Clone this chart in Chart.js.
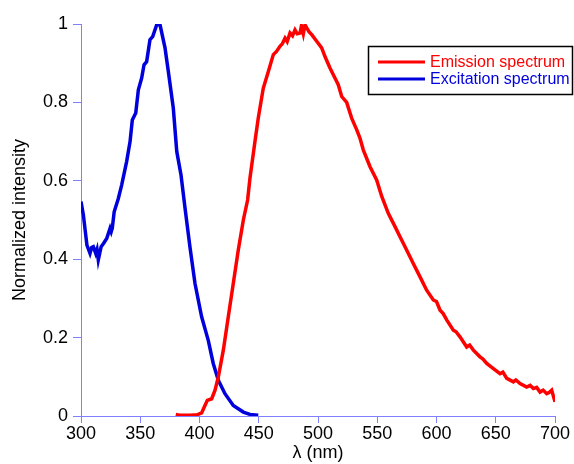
<!DOCTYPE html>
<html>
<head>
<meta charset="utf-8">
<script src="https://cdn.jsdelivr.net/npm/chart.js@4/dist/chart.umd.min.js"></script>
<style>
    html, body { margin: 0; padding: 0; background: #ffffff; }
    #wrap { width: 574px; height: 464px; }
</style>
</head>
<body>
<div id="wrap"><canvas id="spectra" width="574" height="464"></canvas></div>
<script>
// Excitation spectrum (blue)
const excWavelength = [300, 302, 305, 307.6, 309, 310.4, 312.4, 313.5, 314.6, 317, 319, 321.7, 324.5, 325.5, 326.4, 328,
    331.5, 334.3, 338.5, 341.4, 343.3, 346.2, 348.4, 351.2, 353.2, 355.4, 358.2, 360.5, 363.9, 366.7, 370.9, 373.7,
    377.9, 380.8, 384.4, 387.8, 392, 396.2, 401.8, 407.4, 411.6, 415.9, 421.5, 428.5, 437, 442.6, 449.6];
const excIntensity = [0.547, 0.513, 0.436, 0.415, 0.43, 0.432, 0.415, 0.425, 0.398, 0.432, 0.44, 0.453, 0.479, 0.47, 0.479, 0.521,
    0.555, 0.589, 0.649, 0.700, 0.755, 0.773, 0.832, 0.862, 0.896, 0.904, 0.960, 0.968, 0.998, 0.998, 0.939, 0.879,
    0.785, 0.675, 0.615, 0.530, 0.430, 0.338, 0.253, 0.193, 0.134, 0.091, 0.057, 0.027, 0.010, 0.004, 0.002];

// Emission spectrum (red)
const emWavelength = [380, 383, 392, 398, 401.8, 404.6, 406.6, 410.3, 413.1, 415.9, 420.1, 424.3, 428.5, 432.7, 437, 440.6,
    442.6, 446.8, 449.6, 453.8, 458.1, 462.3, 465, 467.9, 470, 472.2, 474, 476.4, 478.5, 480.6, 482.5, 484.8,
    486, 487.6, 489, 490.5, 492.5, 494.7, 498.9, 503.1, 505.9, 510.1, 514.3, 517.1, 520, 524.2, 528.4, 532.7,
    535.4, 538.2, 543.9, 549.5, 553.8, 559.3, 565, 569.2, 574.9, 580.4, 586.1, 591.7, 597.3, 600, 603, 605.5, 608.6, 614.2,
    616.5, 619.8, 625.5, 628, 631.1, 636.7, 639, 642.4, 648, 653.6, 656, 659.3, 664.9, 667, 670.5, 676.1, 679, 681.8,
    684.5, 687.4, 690, 693, 695, 697.2, 700];
const emIntensity = [0.004, 0.002, 0.002, 0.003, 0.008, 0.027, 0.040, 0.044, 0.066, 0.100, 0.168, 0.253, 0.338, 0.423, 0.500, 0.551,
    0.607, 0.700, 0.760, 0.836, 0.879, 0.922, 0.93, 0.943, 0.95, 0.964, 0.955, 0.977, 0.97, 0.985, 0.975, 0.977,
    0.995, 0.975, 0.998, 0.990, 0.98, 0.973, 0.956, 0.939, 0.917, 0.888, 0.862, 0.845, 0.815, 0.800, 0.760, 0.730,
    0.709, 0.679, 0.636, 0.602, 0.560, 0.517, 0.483, 0.457, 0.423, 0.389, 0.355, 0.321, 0.296, 0.292, 0.270, 0.262, 0.245, 0.219,
    0.215, 0.202, 0.176, 0.181, 0.168, 0.151, 0.146, 0.134, 0.121, 0.108, 0.112, 0.096, 0.087, 0.092, 0.083, 0.074, 0.078, 0.070,
    0.073, 0.061, 0.066, 0.057, 0.060, 0.066, 0.036];

const xTicks = [300, 350, 400, 450, 500, 550, 600, 650, 700];
const yTicks = [0, 0.2, 0.4, 0.6, 0.8, 1];

const axisColor = '#8080ff';
const fontFamily = '"Liberation Sans", Arial, sans-serif';

function toPoints(xs, ys) {
    return xs.map((x, i) => ({ x: x, y: ys[i] }));
}

// Boxed legend drawn in the top-right corner
const boxLegend = {
    id: 'boxLegend',
    afterDraw(chart) {
        const ctx = chart.ctx;
        ctx.save();
        ctx.strokeStyle = '#000000';
        ctx.lineWidth = 1.5;
        ctx.strokeRect(368.5, 46.5, 204, 48);
        ctx.font = '16px ' + fontFamily;
        ctx.textBaseline = 'middle';
        chart.data.datasets.forEach((ds, i) => {
            const y = 62 + i * 17;
            ctx.strokeStyle = ds.borderColor;
            ctx.lineWidth = 3;
            ctx.beginPath();
            ctx.moveTo(378, y);
            ctx.lineTo(425, y);
            ctx.stroke();
            ctx.fillStyle = ds.borderColor;
            ctx.fillText(ds.label, 430, y + 1);
        });
        ctx.restore();
    }
};

const ctx = document.getElementById('spectra').getContext('2d');
new Chart(ctx, {
    type: 'scatter',
    data: {
        datasets: [
            {
                label: 'Emission spectrum',
                data: toPoints(emWavelength, emIntensity),
                borderColor: '#ff0000',
                borderWidth: 3.5,
                showLine: true,
                pointRadius: 0,
                tension: 0
            },
            {
                label: 'Excitation spectrum',
                data: toPoints(excWavelength, excIntensity),
                borderColor: '#0000dd',
                borderWidth: 3.5,
                showLine: true,
                pointRadius: 0,
                tension: 0
            }
        ]
    },
    options: {
        responsive: false,
        animation: false,
        layout: { padding: { top: 24, right: 19, left: 9, bottom: 0 } },
        scales: {
            x: {
                type: 'linear',
                min: 300,
                max: 700,
                afterBuildTicks: (scale) => { scale.ticks = xTicks.map(v => ({ value: v })); },
                afterFit: (scale) => { scale.height = 48; },
                border: { display: true, color: axisColor, width: 1 },
                grid: { drawOnChartArea: false, drawTicks: true, tickLength: 7, color: axisColor },
                ticks: { color: '#000000', font: { size: 18, family: fontFamily }, padding: 0, maxRotation: 0 },
                title: {
                    display: true,
                    text: 'λ (nm)',
                    color: '#000000',
                    font: { size: 18, family: fontFamily },
                    padding: { top: 0, bottom: 0 }
                }
            },
            y: {
                min: 0,
                max: 1,
                afterBuildTicks: (scale) => { scale.ticks = yTicks.map(v => ({ value: v })); },
                afterFit: (scale) => { scale.width = 72; },
                border: { display: true, color: axisColor, width: 1 },
                grid: { drawOnChartArea: false, drawTicks: true, tickLength: 8, color: axisColor },
                ticks: {
                    color: '#000000',
                    font: { size: 18, family: fontFamily },
                    padding: 5,
                    callback: (v) => String(+v.toFixed(1))
                },
                title: {
                    display: true,
                    text: 'Normalized intensity',
                    color: '#000000',
                    font: { size: 18, family: fontFamily },
                    padding: { top: 0, bottom: 0 }
                }
            }
        },
        plugins: {
            legend: { display: false },
            tooltip: { enabled: false }
        }
    },
    plugins: [boxLegend]
});
</script>
</body>
</html>
